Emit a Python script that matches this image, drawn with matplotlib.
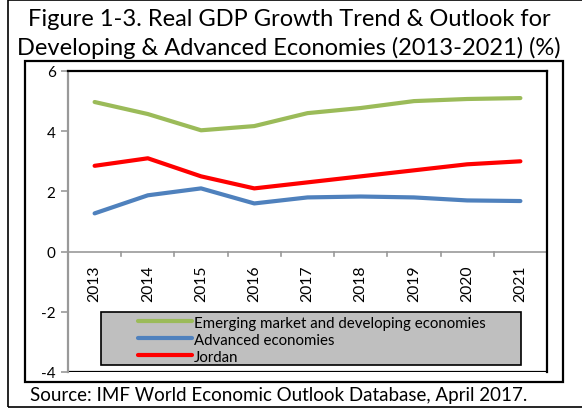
import matplotlib
matplotlib.use("Agg")
import matplotlib.pyplot as plt
from matplotlib.patches import Rectangle
from matplotlib.lines import Line2D

years = ["2013", "2014", "2015", "2016", "2017", "2018", "2019", "2020", "2021"]
emerging = [4.97, 4.57, 4.03, 4.17, 4.6, 4.77, 5.0, 5.07, 5.1]
advanced = [1.27, 1.87, 2.1, 1.6, 1.8, 1.83, 1.8, 1.7, 1.68]
jordan = [2.85, 3.1, 2.5, 2.1, 2.3, 2.5, 2.7, 2.9, 3.0]
labels = ["Emerging market and developing economies", "Advanced economies", "Jordan"]
colors = ["#9BBB59", "#4F81BD", "#FF0000"]

plt.rcParams['font.family'] = ['Lato', 'DejaVu Sans']

W, H = 582, 410
fig = plt.figure(figsize=(W / 100, H / 100), dpi=100)

def fx(px):
    return px / W

def fy(py):
    return 1 - py / H

# outer frame (right edge is off the image) and chart box
fig.patches.append(Rectangle((fx(8), fy(408)), fx(600) - fx(8), fy(1) - fy(408),
                             transform=fig.transFigure, fill=False, ec="black", lw=1.2))
fig.patches.append(Rectangle((fx(25), fy(383)), fx(563) - fx(25), fy(62) - fy(383),
                             transform=fig.transFigure, fill=False, ec="black", lw=1.6))

fig.text(fx(289), fy(20), "Figure 1-3. Real GDP Growth Trend & Outlook for",
         ha="center", va="center", fontsize=17)
fig.text(fx(289), fy(48), "Developing & Advanced Economies (2013-2021) (%)",
         ha="center", va="center", fontsize=17)
fig.text(fx(30), fy(396), "Source: IMF World Economic Outlook Database, April 2017.",
         ha="left", va="center", fontsize=13.5)

ax = fig.add_axes([fx(68), fy(373), fx(547) - fx(68), fy(72) - fy(373)])
x = list(range(len(years)))
for vals, c, lab in zip([emerging, advanced, jordan], colors, labels):
    ax.plot(x, vals, color=c, lw=3, solid_capstyle="round", label=lab)

ax.set_xlim(-0.5, len(years) - 0.5)
ax.set_ylim(-4, 6)
ax.set_yticks([-4, -2, 0, 2, 4, 6])
ax.set_yticklabels(["-4", "-2", "0", "2", "4", "6"])

for s in ["top", "right"]:
    ax.spines[s].set_color("black")
    ax.spines[s].set_linewidth(1.6)
ax.spines["left"].set_color("#999999")
ax.spines["left"].set_linewidth(1.6)
ax.spines["bottom"].set_visible(False)
ax.axhline(-4, color="black", lw=1.6, zorder=0)
ax.axhline(0, color="#999999", lw=1.2, zorder=0)

ax.tick_params(axis="y", direction="out", length=5, width=1.2, color="#999999",
               labelsize=11, pad=4)
ax.set_xticks([])
# category boundary ticks on zero line
for b in [i + 0.5 for i in range(len(years) - 1)] + [len(years) - 0.5]:
    ax.plot([b, b], [0, -0.15], color="#999999", lw=1.2, clip_on=False)
for i, yr in enumerate(years):
    ax.annotate(yr, (i, 0), xytext=(0, -9.5), textcoords="offset points",
                rotation=90, ha="center", va="top", fontsize=11.3)

ax.add_patch(Rectangle((0.069, 0.023), 0.877, 0.176, transform=ax.transAxes,
                       facecolor="#BFBFBF", edgecolor="black", lw=1.2, zorder=3))
handles = [Line2D([0], [0], color=c, lw=3, solid_capstyle="round") for c in colors]
leg = ax.legend(handles, labels, loc="upper left", bbox_to_anchor=(0.146, 0.187),
                frameon=False, fontsize=10.8, handlelength=3.6, handletextpad=0.15,
                labelspacing=0.2, borderpad=0, borderaxespad=0)
leg.set_zorder(4)

fig.savefig("out.png", dpi=100)
